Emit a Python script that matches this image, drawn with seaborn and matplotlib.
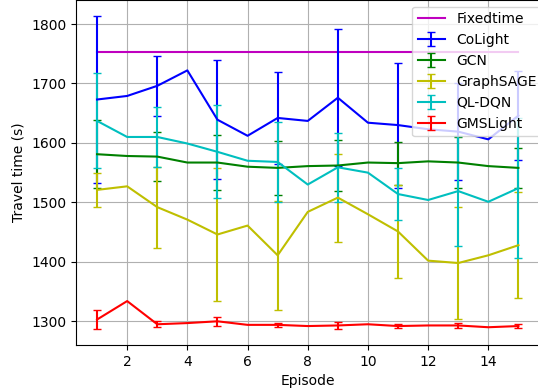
import numpy as np
import pandas as pd
import seaborn as sns
import matplotlib
matplotlib.use("Agg")
import matplotlib.pyplot as plt

episodes = list(range(1, 16))

fixedtime = [1753] * 15
colight = [1673, 1679, 1696, 1722, 1639, 1612, 1642, 1637, 1676, 1634, 1630, 1623, 1619, 1606, 1646]
colight_err = [141, 0, 50, 0, 100, 0, 78, 0, 115, 0, 105, 0, 82, 0, 75]
gcn = [1581, 1578, 1577, 1567, 1567, 1560, 1558, 1561, 1562, 1567, 1566, 1569, 1567, 1561, 1558]
gcn_err = [57, 0, 41, 0, 47, 0, 46, 0, 43, 0, 36, 0, 43, 0, 33]
graphsage = [1521, 1527, 1492, 1471, 1446, 1461, 1411, 1484, 1508, 1480, 1451, 1402, 1398, 1411, 1428]
graphsage_err = [28, 0, 68, 0, 112, 0, 92, 0, 74, 0, 78, 0, 94, 0, 89]
qldqn = [1637, 1610, 1610, 1599, 1585, 1570, 1568, 1530, 1559, 1550, 1514, 1504, 1519, 1501, 1524]
qldqn_err = [80, 0, 51, 0, 78, 0, 67, 0, 58, 0, 43, 0, 92, 0, 118]
gmslight = [1303, 1334, 1295, 1297, 1300, 1294, 1294, 1292, 1293, 1295, 1292, 1293, 1293, 1290, 1292]
gmslight_err = [16, 0, 5, 0, 7.5, 0, 3, 0, 6.5, 0, 3, 0, 4, 0, 4]

fig = plt.figure(figsize=(5.38, 3.92), dpi=100)
ax = fig.add_axes([76 / 538, 1 - 345 / 392, (539.5 - 76) / 538, 345 / 392])

df_fixed = pd.DataFrame({"Episode": episodes, "Travel": fixedtime})
sns.lineplot(data=df_fixed, x="Episode", y="Travel", color="m", label="Fixedtime", ax=ax, linewidth=1.5)

series = [
    ("CoLight", colight, colight_err, "b"),
    ("GCN", gcn, gcn_err, "g"),
    ("GraphSAGE", graphsage, graphsage_err, "y"),
    ("QL-DQN", qldqn, qldqn_err, "c"),
    ("GMSLight", gmslight, gmslight_err, "r"),
]
for name, vals, errs, col in series:
    ax.errorbar(episodes, vals, yerr=errs, color=col, label=name, capsize=3,
                errorevery=(0, 2), linewidth=1.5)

ax.grid(True, color="#b0b0b0", linewidth=0.8)
ax.set_xlabel("Episode")
ax.set_ylabel("Travel time (s)")
ax.set_xticks([2, 4, 6, 8, 10, 12, 14])
ax.set_yticks([1300, 1400, 1500, 1600, 1700, 1800])
ax.legend(loc="upper left", bbox_to_anchor=(412 / 538, 1 - 6.5 / 392),
          bbox_transform=fig.transFigure, borderaxespad=0)

fig.savefig("out.png", dpi=100)
